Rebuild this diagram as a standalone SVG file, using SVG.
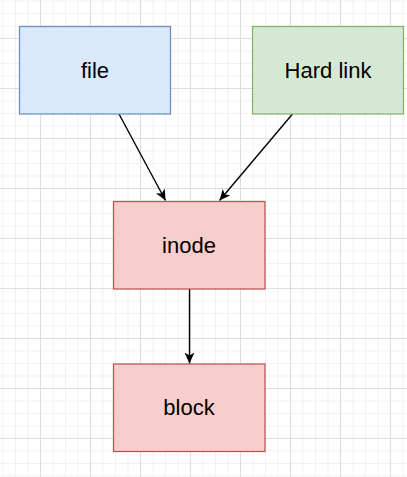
<svg xmlns="http://www.w3.org/2000/svg" width="407" height="477" viewBox="0 0 407 477">
  <style>
    .lbl { font-family: "Liberation Sans", Arial, sans-serif; font-size: 22px; fill: #000; text-anchor: middle; }
    .box { stroke-width: 1.25; }
    .blue { fill: #dae8fc; stroke: #6c8ebf; }
    .green { fill: #d5e8d4; stroke: #82b366; }
    .red { fill: #f8cecc; stroke: #b85450; }
    .edge { fill: none; stroke: #000; stroke-width: 1.4; }
  </style>
  <defs>
    <pattern id="grid" patternUnits="userSpaceOnUse" x="40" y="38" width="50" height="50">
      <path d="M13,0 V50 M25.5,0 V50 M38,0 V50 M0,13 H50 M0,25.5 H50 M0,38 H50" stroke="#f1f1f1" stroke-width="1" fill="none"/>
      <path d="M0.5,0 V50 M0,0.5 H50" stroke="#dedede" stroke-width="1" fill="none"/>
    </pattern>
    <marker id="arrow" markerUnits="userSpaceOnUse" markerWidth="13" markerHeight="11" refX="11" refY="5" orient="auto">
      <path d="M0,0 L11,5 L0,10 L3,5 Z" fill="#000"/>
    </marker>
  </defs>
  <rect x="0" y="0" width="407" height="477" fill="#ffffff"/>
  <rect x="0" y="0" width="407" height="477" fill="url(#grid)"/>

  <g id="connectors">
    <line class="edge" x1="119" y1="114" x2="165.5" y2="200.5" marker-end="url(#arrow)"/>
    <line class="edge" x1="292.5" y1="114" x2="219.5" y2="200.5" marker-end="url(#arrow)"/>
    <line class="edge" x1="189.5" y1="289" x2="189.5" y2="363.5" marker-end="url(#arrow)"/>
  </g>

  <g id="file">
    <rect class="box blue" x="19.5" y="26.5" width="151" height="87.5"/>
    <text class="lbl" x="95" y="78">file</text>
  </g>
  <g id="hardlink">
    <rect class="box green" x="252.5" y="26.5" width="151" height="87.5"/>
    <text class="lbl" x="328" y="78">Hard link</text>
  </g>
  <g id="inode">
    <rect class="box red" x="113.5" y="201.5" width="151.5" height="87.5"/>
    <text class="lbl" x="189" y="252.5">inode</text>
  </g>
  <g id="block">
    <rect class="box red" x="113.5" y="364" width="151.5" height="87.5"/>
    <text class="lbl" x="189" y="415">block</text>
  </g>
</svg>
